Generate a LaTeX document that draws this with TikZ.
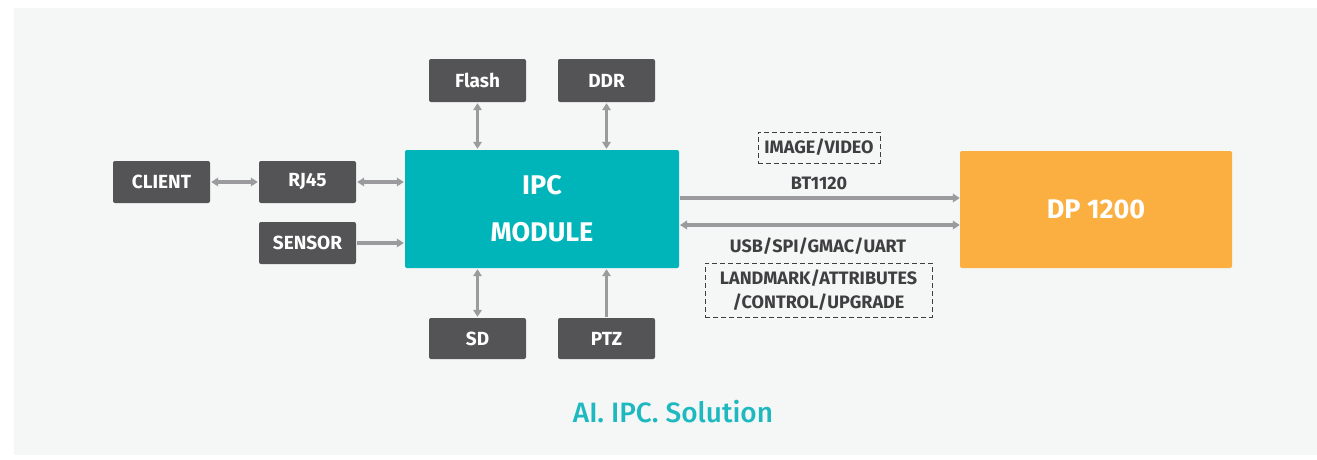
\documentclass[tikz,border=0pt]{standalone}
\usepackage{fontspec}
\setmainfont{Fira Sans}
\newfontfamily\titlefont{Fira Sans}[UprightFont=* Medium]
\usetikzlibrary{arrows.meta}
\usepackage{xcolor}
\definecolor{panelgray}{HTML}{F5F6F6}
\definecolor{boxgray}{HTML}{545456}
\definecolor{ipcteal}{HTML}{00B5B9}
\definecolor{dporange}{HTML}{FBAF41}
\definecolor{arrowgray}{HTML}{9B9B9D}
\definecolor{labelgray}{HTML}{3F3F41}
\definecolor{titleteal}{HTML}{1DB8C0}

\begin{document}
\begin{tikzpicture}[x=1pt,y=-1pt,>={Triangle[length=7pt,width=8.5pt]},line cap=butt,
  unit/.style={fill=boxgray,rounded corners=2pt,text=white,font=\fontsize{19}{19}\selectfont\bfseries,
    minimum width=97pt,minimum height=42pt,inner sep=0pt},
  bigbox/.style={rounded corners=2pt,text=white,font=\fontsize{27}{27}\selectfont\bfseries,
    minimum width=274pt,minimum height=118pt,inner sep=0pt,align=center},
  link/.style={arrowgray,line width=3.2pt,shorten <=1pt,shorten >=1pt},
  buslink/.style={arrowgray,line width=3.8pt},
  tag/.style={text=labelgray,font=\fontsize{18}{18}\selectfont\bfseries,inner sep=0pt},
  dashtag/.style={tag,draw=labelgray,line width=0.8pt,dash pattern=on 5pt off 3pt,align=center}]
\useasboundingbox (0,0) rectangle (1317,459);
\fill[panelgray] (14,8) rectangle (1317,455);

\node[bigbox,fill=ipcteal] (ipc) at (542,209) {IPC\\[20pt]MODULE};
\node[bigbox,fill=dporange,minimum width=272pt,minimum height=117pt] (dp) at (1096,209.5) {DP 1200};

\node[unit] (client) at (161.5,182) {CLIENT};
\node[unit] (rj45) at (307.5,182) {RJ45};
\node[unit] (sensor) at (307.5,243) {SENSOR};
\node[unit,minimum height=43pt] (flash) at (477.5,80.5) {Flash};
\node[unit,minimum height=43pt] (ddr) at (606.5,80.5) {DDR};
\node[unit,minimum height=41pt] (sd) at (477.5,338.5) {SD};
\node[unit,minimum height=41pt] (ptz) at (606.5,338.5) {PTZ};

\draw[link,<->] (client) -- (rj45);
\draw[link,<->] (rj45) -- (rj45 -| ipc.west);
\draw[link,->] (sensor) -- (sensor -| ipc.west);
\draw[link,<->] (flash) -- (flash |- ipc.north);
\draw[link,<->] (ddr) -- (ddr |- ipc.north);
\draw[link,<->] (sd) -- (sd |- ipc.south);
\draw[link,<-] (ptz |- ipc.south) -- (ptz);

\coordinate (busa) at (680,198);
\coordinate (busb) at (680,225);
\draw[buslink,->] (busa) -- (busa -| dp.west);
\draw[buslink,<->] (busb) -- (busb -| dp.west);

\node[dashtag,minimum width=122pt,minimum height=31pt] (imgvid) at (819,147.5) {IMAGE/VIDEO};
\node[tag] (bt) at (819,183) {BT1120};
\node[tag] (usb) at (818,246) {USB/SPI/GMAC/UART};
\node[dashtag,minimum width=227pt,minimum height=54pt] (ctrl) at (818.5,290) {LANDMARK/ATTRIBUTES\\[6pt]/CONTROL/UPGRADE};

\node[text=titleteal,font=\fontsize{28}{28}\titlefont] (title) at (673,412) {AI. IPC. Solution};
\end{tikzpicture}
\end{document}
